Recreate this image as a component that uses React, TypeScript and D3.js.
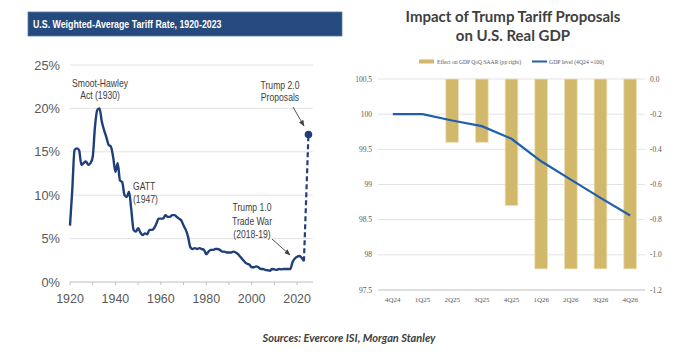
import React from "react";
import * as d3 from "d3";

const years = d3.range(1920, 2024);
const tariff = [
  6.5, 10.6, 15.2, 15.4, 15.2, 13.5, 13.7, 13.9, 13.5, 13.7,
  14.4, 17.9, 19.8, 20.0, 18.5, 17.5, 16.7, 15.8, 15.6, 14.4,
  12.7, 13.7, 11.7, 11.5, 10.0, 9.8, 10.4, 8.3, 6.0, 5.8,
  6.2, 5.7, 5.4, 5.6, 5.5, 6.0, 6.0, 6.2, 6.7, 7.3,
  7.3, 7.3, 7.7, 7.5, 7.5, 7.7, 7.7, 7.5, 7.3, 7.1,
  6.5, 6.0, 5.2, 4.0, 3.8, 3.9, 3.8, 3.9, 3.8, 3.7,
  3.2, 3.5, 3.7, 3.7, 3.8, 3.8, 3.7, 3.5, 3.5, 3.4,
  3.4, 3.4, 3.5, 3.4, 3.2, 2.9, 2.6, 2.3, 2.1, 2.0,
  1.7, 1.7, 1.8, 1.7, 1.5, 1.5, 1.4, 1.35, 1.3, 1.5,
  1.45, 1.4, 1.5, 1.45, 1.5, 1.5, 1.5, 1.5, 2.3, 2.7,
  2.9, 3.0, 2.8, 2.4,
];
const proposalYear = 2025;
const proposalRate = 17;
const leftYTicks = [0, 5, 10, 15, 20, 25];
const leftXTicks = [1920, 1940, 1960, 1980, 2000, 2020];

const quarters = ["4Q24", "1Q25", "2Q25", "3Q25", "4Q25", "1Q26", "2Q26", "3Q26", "4Q26"];
const gdpEffect = [0, 0, -0.36, -0.36, -0.72, -1.08, -1.08, -1.08, -1.08];
const gdpLevel = [100, 100, 99.91, 99.83, 99.65, 99.33, 99.07, 98.81, 98.56];
const leftAxisTicks = [97.5, 98, 98.5, 99, 99.5, 100, 100.5];
const rightAxisTicks = [-1.2, -1.0, -0.8, -0.6, -0.4, -0.2, 0.0];

const sans = "'Liberation Sans', Arial, sans-serif";
const serif = "'Liberation Serif', 'Times New Roman', serif";

function NText(props: {
  x: number;
  y: number;
  anchor?: "start" | "middle" | "end";
  size?: number;
  fill?: string;
  weight?: string;
  sx?: number;
  children: React.ReactNode;
}) {
  const { x, y, anchor = "start", size = 10.5, fill = "#404040", weight = "normal", sx = 0.82, children } = props;
  return (
    <text
      transform={`translate(${x},${y}) scale(${sx},1)`}
      textAnchor={anchor}
      fontFamily={sans}
      fontSize={size}
      fontWeight={weight}
      fill={fill}
    >
      {children}
    </text>
  );
}

export default function App() {
  // Left chart
  const x = d3.scaleLinear().domain([1920, 2027]).range([70, 313]);
  const y = d3.scaleLinear().domain([0, 25]).range([282, 65]);
  const line = d3
    .line<number>()
    .x((_, i) => x(years[i]))
    .y((d) => y(d))
    .curve(d3.curveMonotoneX);
  const lastYear = years[years.length - 1];
  const lastVal = tariff[tariff.length - 1];

  // Right chart
  const xb = d3.scaleBand<string>().domain(quarters).range([378, 645]).paddingInner(0.57).paddingOuter(0.285);
  const yl = d3.scaleLinear().domain([97.5, 100.5]).range([290, 79]);
  const yr = d3.scaleLinear().domain([-1.2, 0]).range([290, 79]);
  const cx = (q: string) => (xb(q) as number) + xb.bandwidth() / 2;
  const gline = d3
    .line<number>()
    .x((_, i) => cx(quarters[i]))
    .y((d) => yl(d));

  return (
    <svg width={700} height={360} style={{ position: "absolute", left: 0, top: 0, background: "#fff" }}>
      <defs>
        <marker id="arr" viewBox="0 0 10 10" refX="9" refY="5" markerWidth="7" markerHeight="7" orient="auto">
          <path d="M0,1 L10,5 L0,9 Z" fill="#404040" />
        </marker>
      </defs>
      {/* Left title bar */}
      <rect x={28} y={12} width={314} height={24} fill="#254a7e" stroke="#5a7aa8" strokeWidth={0.8} />
      <NText x={33} y={28} size={11} weight="bold" fill="#fff" sx={0.8}>
        U.S. Weighted-Average Tariff Rate, 1920-2023
      </NText>

      {/* Left grid */}
      {leftYTicks.filter((t) => t > 0).map((t) => (
        <line key={t} x1={70} x2={313} y1={y(t)} y2={y(t)} stroke="#e3e3e3" strokeWidth={1} />
      ))}
      <line x1={70} x2={313} y1={y(0)} y2={y(0)} stroke="#bfbfbf" strokeWidth={1} />
      {d3.range(1920, 2030, 10).map((t) => (
        <line key={t} x1={x(t)} x2={x(t)} y1={y(0)} y2={y(0) + 3} stroke="#bfbfbf" />
      ))}
      {leftYTicks.map((t) => (
        <NText key={t} x={60} y={y(t) + 4.5} anchor="end" size={13.5} fill="#595959" sx={0.95}>
          {t}%
        </NText>
      ))}
      {leftXTicks.map((t) => (
        <NText key={t} x={x(t)} y={303} anchor="middle" size={13.5} fill="#595959" sx={0.92}>
          {t}
        </NText>
      ))}

      {/* Tariff line */}
      <path d={line(tariff) || ""} fill="none" stroke="#1f3f7a" strokeWidth={2.4} strokeLinejoin="round" />
      <line
        x1={x(lastYear)}
        y1={y(lastVal)}
        x2={x(proposalYear)}
        y2={y(proposalRate)}
        stroke="#1f3f7a"
        strokeWidth={2.2}
        strokeDasharray="5,3"
      />
      <circle cx={x(proposalYear)} cy={y(proposalRate)} r={3.8} fill="#1f3f7a" />

      {/* Annotations */}
      <NText x={100} y={86.5} anchor="middle">Smoot-Hawley</NText>
      <NText x={100} y={98.5} anchor="middle">Act (1930)</NText>
      <NText x={133} y={190} >GATT</NText>
      <NText x={133} y={203}>(1947)</NText>
      <NText x={252} y={210.5} anchor="middle">Trump 1.0</NText>
      <NText x={252} y={224.5} anchor="middle">Trade War</NText>
      <NText x={252} y={238} anchor="middle">(2018-19)</NText>
      <line x1={272} y1={239} x2={290} y2={255} stroke="#404040" strokeWidth={0.9} markerEnd="url(#arr)" />
      <NText x={280} y={89} anchor="middle">Trump 2.0</NText>
      <NText x={280} y={101} anchor="middle">Proposals</NText>
      <line x1={293} y1={107} x2={304} y2={126} stroke="#404040" strokeWidth={0.9} markerEnd="url(#arr)" />

      {/* Right title */}
      <text x={513} y={22} textAnchor="middle" fontFamily="Lato, 'Open Sans', sans-serif" fontWeight="bold" fontSize={15} fill="#404040">
        Impact of Trump  Tariff Proposals
      </text>
      <text x={513} y={41} textAnchor="middle" fontFamily="Lato, 'Open Sans', sans-serif" fontWeight="bold" fontSize={15} fill="#404040">
        on U.S. Real GDP
      </text>

      {/* Right legend */}
      <rect x={419} y={59.5} width={15} height={4} fill="#d2b86b" />
      <text x={437} y={64} fontFamily={serif} fontSize={6.5} fill="#595959" textLength={84} lengthAdjust="spacingAndGlyphs">
        Effect on GDP QoQ SAAR (pp right)
      </text>
      <line x1={532} x2={547} y1={61.5} y2={61.5} stroke="#1f5fae" strokeWidth={2} />
      <text x={549} y={64} fontFamily={serif} fontSize={6.5} fill="#595959" textLength={55} lengthAdjust="spacingAndGlyphs">
        GDP level  (4Q24 =100)
      </text>

      {/* Right grid */}
      {leftAxisTicks.map((t) => (
        <line key={t} x1={378} x2={645} y1={yl(t)} y2={yl(t)} stroke={t === 97.5 ? "#bfbfbf" : "#e3e3e3"} strokeWidth={1} />
      ))}
      {leftAxisTicks.map((t) => (
        <text key={t} x={372} y={yl(t) + 2.5} textAnchor="end" fontFamily={serif} fontSize={7.5} fill="#595959">
          {t}
        </text>
      ))}
      {rightAxisTicks.map((t) => (
        <text key={t} x={650} y={yr(t) + 2.5} fontFamily={serif} fontSize={7.5} fill="#595959">
          {t.toFixed(1)}
        </text>
      ))}
      {quarters.map((q) => (
        <text key={q} x={cx(q)} y={302} textAnchor="middle" fontFamily={serif} fontSize={7} fill="#595959">
          {q}
        </text>
      ))}

      {/* Bars */}
      {quarters.map((q, i) =>
        gdpEffect[i] < 0 ? (
          <rect
            key={q}
            x={xb(q)}
            y={yr(0)}
            width={xb.bandwidth()}
            height={yr(gdpEffect[i]) - yr(0)}
            fill="#d2b86b"
            stroke="#efe3bc"
            strokeWidth={0.8}
          />
        ) : null
      )}
      <path d={gline(gdpLevel) || ""} fill="none" stroke="#1f5fae" strokeWidth={2.2} />

      {/* Sources */}
      <text x={349} y={342} textAnchor="middle" fontFamily="Lato, 'Open Sans', sans-serif" fontStyle="italic" fontWeight="bold" fontSize={11} fill="#404040">
        Sources: Evercore ISI, Morgan Stanley
      </text>
    </svg>
  );
}
